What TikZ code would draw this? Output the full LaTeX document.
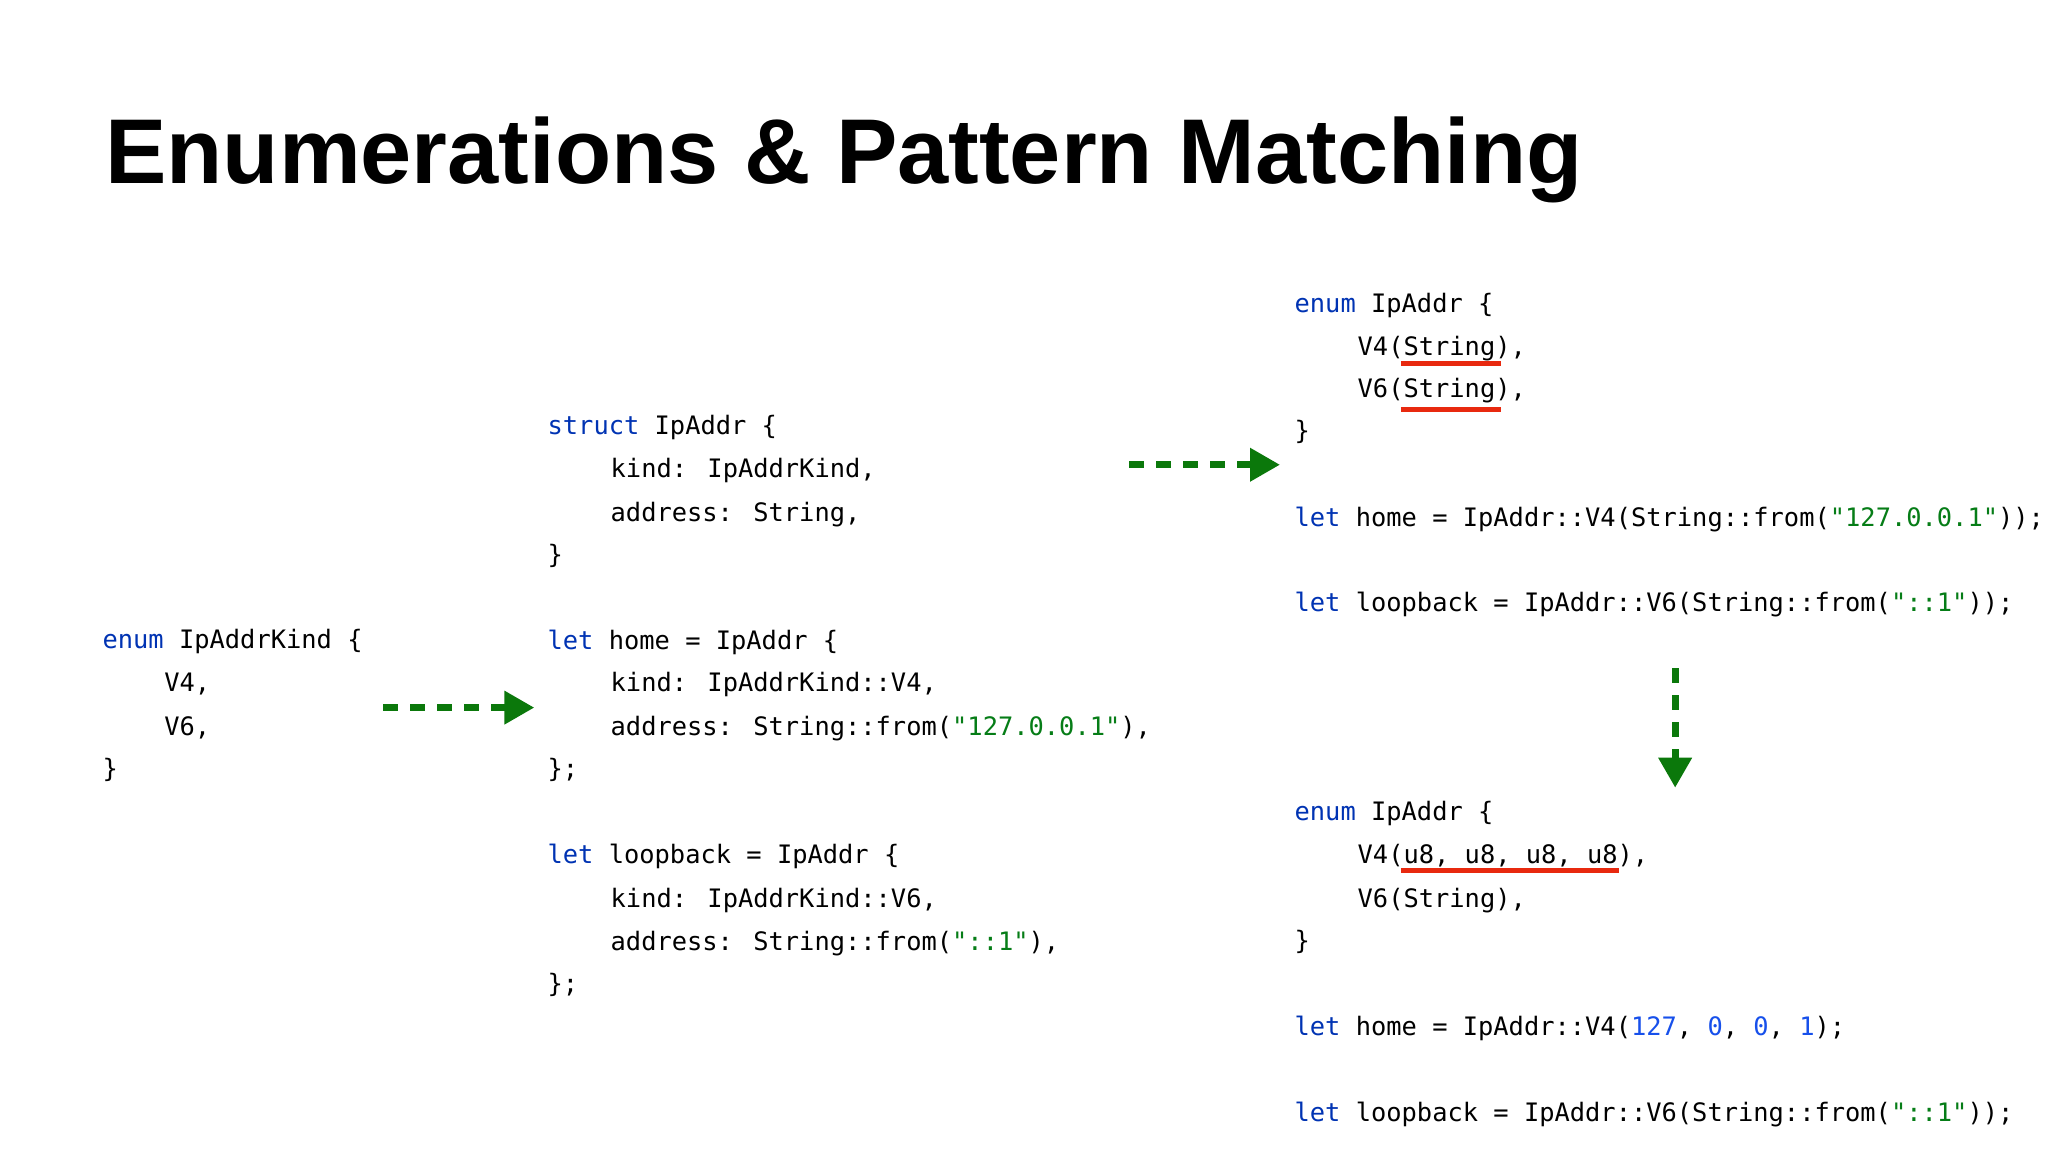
\documentclass[tikz,border=0pt]{standalone}
\usepackage{fontspec}
\setmainfont{Liberation Sans}
\newfontfamily\codefont{DejaVu Sans Mono}
\usetikzlibrary{arrows.meta}
\definecolor{kw}{HTML}{0033B3}
\definecolor{str}{HTML}{067D17}
\definecolor{num}{HTML}{1750EB}
\definecolor{arr}{HTML}{0B780B}
\definecolor{ul}{HTML}{E8290F}
\newcommand{\K}[1]{\textcolor{kw}{#1}}
\newcommand{\St}[1]{\textcolor{str}{#1}}
\newcommand{\N}[1]{\textcolor{num}{#1}}
\begin{document}
\begin{tikzpicture}[x=1.3128pt,y=-1.3128pt,
  code/.style={anchor=base west,inner sep=0pt,font=\codefont\fontsize{25.4}{30}\selectfont},
  flow/.style={draw=arr,line width=7pt,dash pattern=on 15pt off 12pt,-{Triangle[length=30pt,width=32pt]}},
  under/.style={draw=ul,line width=4.5pt}]
\useasboundingbox[fill=white] (0,0) rectangle (1560,877.5);
\node[anchor=base west,inner sep=0pt,font=\bfseries\fontsize{92}{100}\selectfont] (title) at (80,140) {Enumerations \& Pattern Matching};
% left block
\node[code] (l1) at (78,494) {\K{enum} IpAddrKind \{};
\node[code] (l2) at (125,527) {V4,};
\node[code] (l3) at (125,560) {V6,};
\node[code] (l4) at (78,592) {\}};
% middle block
\node[code] (m1) at (417,331) {\K{struct} IpAddr \{};
\node[code] (m2) at (465,364) {kind: IpAddrKind,};
\node[code] (m3) at (465,397) {address: String,};
\node[code] (m4) at (417,429) {\}};
\node[code] (m5) at (417,495) {\K{let} home = IpAddr \{};
\node[code] (m6) at (465,527) {kind: IpAddrKind::V4,};
\node[code] (m7) at (465,560) {address: String::from(\St{"127.0.0.1"}),};
\node[code] (m8) at (417,592) {\};};
\node[code] (m9) at (417,658) {\K{let} loopback = IpAddr \{};
\node[code] (m10) at (465,691) {kind: IpAddrKind::V6,};
\node[code] (m11) at (465,724) {address: String::from(\St{"::1"}),};
\node[code] (m12) at (417,756) {\};};
% right top
\node[code] (r1) at (986,238) {\K{enum} IpAddr \{};
\node[code] (r2) at (1034,271) {V4(String),};
\node[code] (r3) at (1034,303) {V6(String),};
\node[code] (r4) at (986,335) {\}};
\node[code] (r5) at (986,401) {\K{let} home = IpAddr::V4(String::from(\St{"127.0.0.1"}));};
\node[code] (r6) at (986,466) {\K{let} loopback = IpAddr::V6(String::from(\St{"::1"}));};
% right bottom
\node[code] (b1) at (986,625) {\K{enum} IpAddr \{};
\node[code] (b2) at (1034,658) {V4(u8, u8, u8, u8),};
\node[code] (b3) at (1034,691) {V6(String),};
\node[code] (b4) at (986,723) {\}};
\node[code] (b5) at (986,789) {\K{let} home = IpAddr::V4(\N{127}, \N{0}, \N{0}, \N{1});};
\node[code] (b6) at (986,854) {\K{let} loopback = IpAddr::V6(String::from(\St{"::1"}));};
% underlines
\coordinate (u1a) at (1067,277); \coordinate (u1b) at (1143,277);
\coordinate (u2a) at (1067,312); \coordinate (u2b) at (1143,312);
\coordinate (u3a) at (1067,663); \coordinate (u3b) at (1233,663);
\draw[under] (u1a) -- (u1b);
\draw[under] (u2a) -- (u2b);
\draw[under] (u3a) -- (u3b);
% arrows
\coordinate (a1s) at (292,539); \coordinate (a1e) at (407,539);
\coordinate (a2s) at (860,354); \coordinate (a2e) at (975,354);
\coordinate (a3s) at (1276,509); \coordinate (a3e) at (1276,600);
\draw[flow] (a1s) -- (a1e);
\draw[flow] (a2s) -- (a2e);
\draw[flow] (a3s) -- (a3e);
\end{tikzpicture}
\end{document}
